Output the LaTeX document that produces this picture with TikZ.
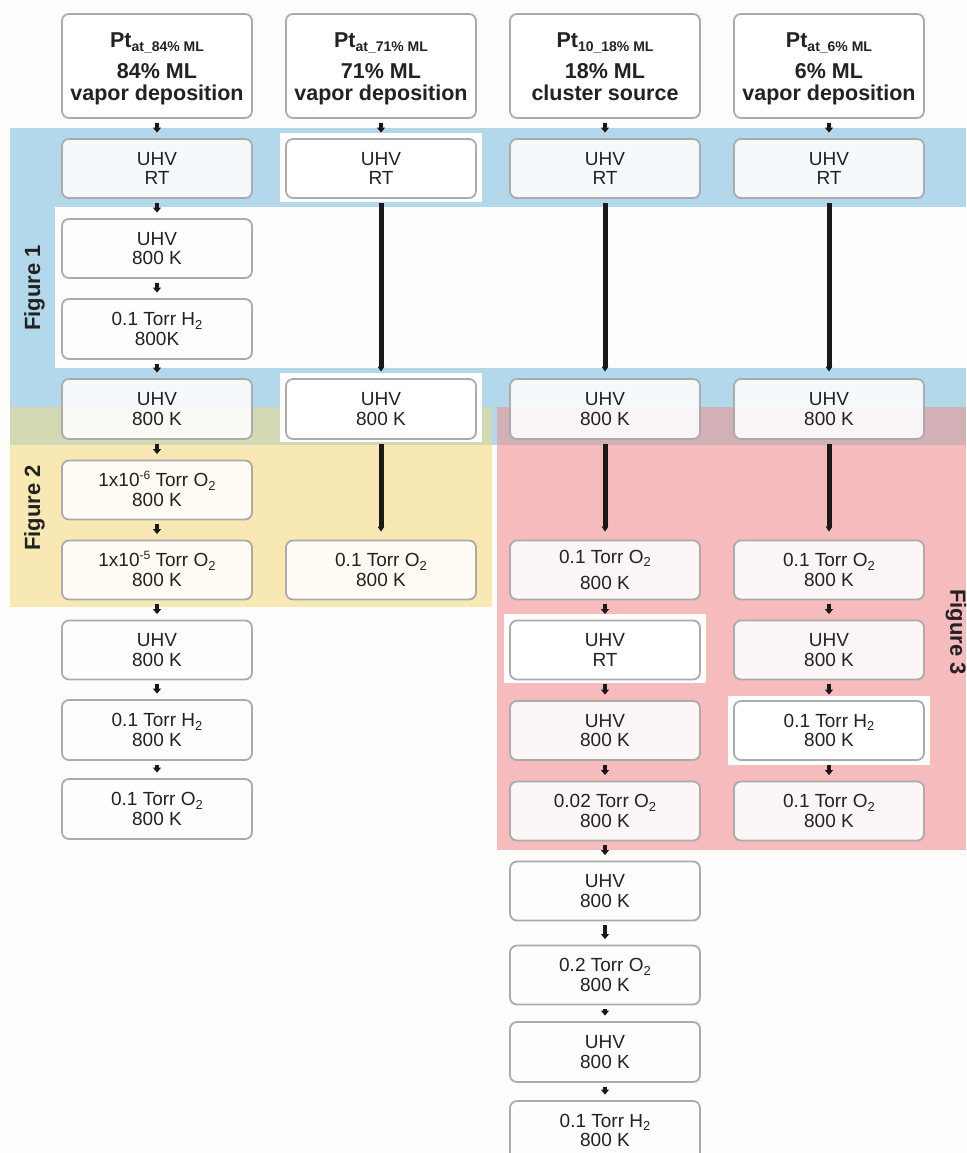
\documentclass[tikz,border=0pt]{standalone}
\usepackage{fontspec}
\setmainfont{Liberation Sans}
\usetikzlibrary{arrows.meta}
\definecolor{bandblue}{HTML}{B3D8EC}
\definecolor{bandyellow}{HTML}{F8E8B4}
\definecolor{bandred}{HTML}{F5BBBD}
\definecolor{bandolive}{HTML}{D3D9B3}
\definecolor{bandmauve}{HTML}{D3AFB6}
\definecolor{boxgray}{HTML}{ABABAB}
\definecolor{txt}{HTML}{222222}
\definecolor{bgc}{HTML}{FDFDFC}
\newcommand{\mysub}[1]{\raisebox{-3.5pt}[0pt][0pt]{\fontsize{13}{13}\selectfont #1}}
\newcommand{\mysup}[1]{\raisebox{7pt}[0pt][0pt]{\fontsize{12}{12}\selectfont #1}}
\newcommand{\hsub}[1]{\raisebox{-4pt}{\fontsize{14}{14}\selectfont\bfseries #1}}
\begin{document}
\begin{tikzpicture}[x=1pt,y=-1pt,
  box/.style={draw=boxgray, line width=1.8pt, rounded corners=7pt, fill=white,
    fill opacity=0.87, text opacity=1, minimum width=190pt, minimum height=59pt,
    inner sep=0pt, align=center, text=txt, font=\fontsize{19}{19.5}\selectfont},
  headbox/.style={box, fill opacity=1, minimum height=104pt,
    font=\fontsize{21.5}{22}\selectfont\bfseries},
  sarrow/.style={line width=3.5pt, draw=black!90, -{Triangle[width=8pt,length=5pt]},
    shorten <=4pt, shorten >=5.5pt},
  larrow/.style={line width=5pt, draw=black!90, -{Triangle[width=6.5pt,length=5pt]},
    shorten <=4.5pt},
  figlabel/.style={font=\fontsize{22}{22}\selectfont\bfseries, text=txt, inner sep=0pt}
]
\useasboundingbox (0,0) rectangle (966,1153);
\fill[bgc] (0,0) rectangle (966,1153);
% background bands
\fill[bandblue] (10,128) rectangle (966,445);
\fill[bgc] (55,207) rectangle (966,368);
\fill[bandyellow] (10,407) rectangle (492,607);
\fill[bandred] (497,407) rectangle (966,850);
\fill[bandolive] (10,407) rectangle (492,445);
\fill[bandmauve] (497,407) rectangle (966,445);
% white highlight frames
\fill[white] (280,133) rectangle (482,202);
\fill[white] (280,373) rectangle (482,442);
\fill[white] (504,614) rectangle (706,683);
\fill[white] (728,696) rectangle (930,765);
% figure labels
\node[figlabel, rotate=90] (f1) at (34.5,288) {Figure 1};
\node[figlabel, rotate=90] (f2) at (34.5,508) {Figure 2};
\node[figlabel, rotate=-90] (f3) at (956,632) {Figure 3};
% headers
\node[headbox] (h1) at (157,66) {};
\node[headbox] (h2) at (381,66) {};
\node[headbox] (h3) at (605,66) {};
\node[headbox] (h4) at (829,66) {};
\node[headbox, draw=none, fill=none, yshift=-3pt] at (h1) {Pt\hsub{at\_84\% ML}\\[9pt]84\% ML\\vapor deposition\vphantom{p}};
\node[headbox, draw=none, fill=none, yshift=-3pt] at (h2) {Pt\hsub{at\_71\% ML}\\[9pt]71\% ML\\vapor deposition\vphantom{p}};
\node[headbox, draw=none, fill=none, yshift=-3pt] at (h3) {Pt\hsub{10\_18\% ML}\\[9pt]18\% ML\\cluster source\vphantom{p}};
\node[headbox, draw=none, fill=none, yshift=-3pt] at (h4) {Pt\hsub{at\_6\% ML}\\[9pt]6\% ML\\vapor deposition\vphantom{p}};
% column 1
\node[box] (a1) at (157,168.5) {UHV\\RT};
\node[box] (a2) at (157,248.5) {UHV\\800 K};
\node[box, minimum height=60pt] (a3) at (157,329) {0.1 Torr H\mysub{2}\\800K};
\node[box, minimum height=60pt] (a4) at (157,409) {UHV\\800 K};
\node[box] (a5) at (157,490) {1x10\mysup{-6} Torr O\mysub{2}\\800 K};
\node[box] (a6) at (157,570) {1x10\mysup{-5} Torr O\mysub{2}\\800 K};
\node[box] (a7) at (157,650) {UHV\\800 K};
\node[box, minimum height=60pt] (a8) at (157,730) {0.1 Torr H\mysub{2}\\800 K};
\node[box, minimum height=60pt] (a9) at (157,809) {0.1 Torr O\mysub{2}\\800 K};
% column 2
\node[box] (b1) at (381,168.5) {UHV\\RT};
\node[box, minimum height=60pt] (b2) at (381,409) {UHV\\800 K};
\node[box] (b3) at (381,570) {0.1 Torr O\mysub{2}\\800 K};
% column 3
\node[box] (c1) at (605,168.5) {UHV\\RT};
\node[box, minimum height=60pt] (c2) at (605,409) {UHV\\800 K};
\node[box] (c3) at (605,570) {0.1 Torr O\mysub{2}\\[7pt]800 K};
\node[box] (c4) at (605,650) {UHV\\RT};
\node[box] (c5) at (605,730.5) {UHV\\800 K};
\node[box] (c6) at (605,811) {0.02 Torr O\mysub{2}\\800 K};
\node[box] (c7) at (605,891) {UHV\\800 K};
\node[box] (c8) at (605,975) {0.2 Torr O\mysub{2}\\800 K};
\node[box, minimum height=60pt] (c9) at (605,1052) {UHV\\800 K};
\node[box] (c10) at (605,1130.5) {0.1 Torr H\mysub{2}\\800 K};
% column 4
\node[box] (d1) at (829,168.5) {UHV\\RT};
\node[box, minimum height=60pt] (d2) at (829,409) {UHV\\800 K};
\node[box] (d3) at (829,570) {0.1 Torr O\mysub{2}\\800 K};
\node[box] (d4) at (829,650) {UHV\\800 K};
\node[box] (d5) at (829,730.5) {0.1 Torr H\mysub{2}\\800 K};
\node[box] (d6) at (829,811) {0.1 Torr O\mysub{2}\\800 K};
% arrows
\foreach \u/\v in {h1/a1,a1/a2,a2/a3,a3/a4,a4/a5,a5/a6,a6/a7,a7/a8,a8/a9,
  h2/b1,h3/c1,h4/d1,c3/c4,c4/c5,c5/c6,c6/c7,c7/c8,c8/c9,c9/c10,d3/d4,d4/d5,d5/d6}
  \draw[sarrow] (\u.south) -- (\v.north);
\foreach \u/\v in {b1/b2,c1/c2,d1/d2}
  \draw[larrow, shorten >=6.5pt] (\u.south) -- (\v.north);
\foreach \u/\v in {b2/b3,c2/c3,d2/d3}
  \draw[larrow, shorten >=8pt] (\u.south) -- (\v.north);
\end{tikzpicture}
\end{document}
